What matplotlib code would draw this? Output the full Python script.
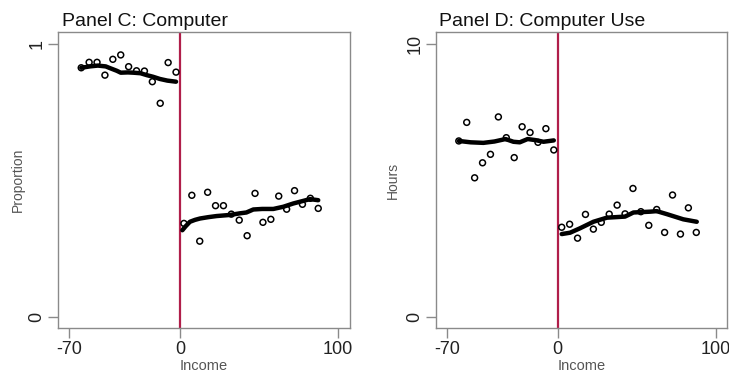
import matplotlib
matplotlib.use("Agg")
import matplotlib.pyplot as plt

plt.rcParams['font.family'] = ['Liberation Sans', 'DejaVu Sans']

# ---- Panel C: Computer (proportion) ----
c_left_x = [-62.5, -57.5, -52.5, -47.5, -42.5, -37.5, -32.5, -27.5, -22.5, -17.5, -12.5, -7.5, -2.5]
c_left_y = [0.913, 0.933, 0.933, 0.886, 0.944, 0.960, 0.917, 0.902, 0.901, 0.862, 0.783, 0.932, 0.897]
c_right_x = [2.5, 7.5, 12.5, 17.5, 22.5, 27.5, 32.5, 37.5, 42.5, 47.5, 52.5, 57.5, 62.5, 67.5, 72.5, 77.5, 82.5, 87.5]
c_right_y = [0.343, 0.446, 0.278, 0.457, 0.408, 0.408, 0.377, 0.355, 0.298, 0.453, 0.347, 0.358, 0.443, 0.395, 0.463, 0.413, 0.435, 0.398]
c_fit_left_x = [-62.5, -57, -52, -47, -44, -40, -37.5, -33, -29.5, -25, -21, -17, -12.7, -8, -2.5]
c_fit_left_y = [0.913, 0.918, 0.921, 0.918, 0.911, 0.902, 0.895, 0.896, 0.895, 0.893, 0.886, 0.880, 0.872, 0.866, 0.862]
c_fit_right_x = [1.5, 3.5, 6.3, 9.5, 12.7, 18, 23.2, 31.6, 38, 42, 46.4, 52, 59.1, 65.4, 71.7, 77, 82.3, 87.5]
c_fit_right_y = [0.318, 0.332, 0.349, 0.356, 0.361, 0.366, 0.370, 0.374, 0.380, 0.383, 0.394, 0.396, 0.396, 0.404, 0.416, 0.424, 0.432, 0.428]

# ---- Panel D: Computer Use (hours) ----
d_left_x = [-62.5, -57.5, -52.5, -47.5, -42.5, -37.5, -32.5, -27.5, -22.5, -17.5, -12.5, -7.5, -2.5]
d_left_y = [6.45, 7.13, 5.10, 5.65, 5.96, 7.33, 6.57, 5.84, 6.97, 6.76, 6.40, 6.90, 6.12]
d_right_x = [2.5, 7.5, 12.5, 17.5, 22.5, 27.5, 32.5, 37.5, 42.5, 47.5, 52.5, 57.5, 62.5, 67.5, 72.5, 77.5, 82.5, 87.5]
d_right_y = [3.29, 3.40, 2.89, 3.76, 3.22, 3.47, 3.77, 4.10, 3.78, 4.71, 3.86, 3.36, 3.94, 3.10, 4.47, 3.04, 4.00, 3.10]
d_fit_left_x = [-62.5, -55, -47, -40, -33, -28, -24, -19, -14, -9, -2.5]
d_fit_left_y = [6.45, 6.40, 6.38, 6.43, 6.52, 6.42, 6.40, 6.52, 6.48, 6.42, 6.47]
d_fit_right_x = [2.5, 7.8, 14, 22.5, 31, 42.5, 47.8, 58.3, 62.5, 68.9, 79.3, 87.8]
d_fit_right_y = [3.04, 3.09, 3.25, 3.49, 3.64, 3.68, 3.83, 3.86, 3.88, 3.77, 3.58, 3.49]

xticks = [-70, 0, 100]
xtick_labels = ['-70', '0', '100']

RED = '#B01E4A'
FRAME = '#8a8a8a'

fig = plt.figure(figsize=(7.29, 3.74), dpi=100)
axC = fig.add_axes([58/729, 46/374, 292/729, 296/374])
axD = fig.add_axes([436/729, 46/374, 291/729, 296/374])

def style(ax, title, ylabel, yticks, ylim, xlim, ylab_x):
    ax.set_xlim(*xlim)
    ax.set_ylim(*ylim)
    ax.set_xticks(xticks)
    ax.set_xticklabels(xtick_labels)
    ax.set_yticks(yticks)
    ax.set_yticklabels([str(v) for v in yticks], rotation=90, va='center')
    for s in ax.spines.values():
        s.set_color(FRAME)
        s.set_linewidth(1.0)
    ax.tick_params(axis='both', direction='out', length=7, width=1.0, color=FRAME,
                   labelsize=13, labelcolor='#222222', pad=2)
    ax.set_title(title, loc='left', fontsize=14, color='#111111', pad=4, x=0.012)
    ax.set_xlabel('Income', fontsize=10.5, color='#555555')
    ax.xaxis.set_label_coords(0.5, -0.105)
    ax.set_ylabel(ylabel, fontsize=10, color='#555555')
    ax.yaxis.set_label_coords(ylab_x, 0.5)
    ax.axvline(0, color=RED, lw=1.6, zorder=2)

def draw(ax, lx, ly, rx, ry, flx, fly, frx, fry):
    ax.plot(flx, fly, color='black', lw=3.2, solid_capstyle='round', zorder=3)
    ax.plot(frx, fry, color='black', lw=3.2, solid_capstyle='round', zorder=3)
    ax.scatter(lx, ly, s=18, facecolors='none', edgecolors='black', linewidths=1.1, zorder=4)
    ax.scatter(rx, ry, s=18, facecolors='none', edgecolors='black', linewidths=1.1, zorder=4)

style(axC, 'Panel C: Computer', 'Proportion', [0, 1], (-0.04, 1.044), (-77.2, 107.6), -0.113)
draw(axC, c_left_x, c_left_y, c_right_x, c_right_y,
     c_fit_left_x, c_fit_left_y, c_fit_right_x, c_fit_right_y)

style(axD, 'Panel D: Computer Use', 'Hours', [0, 10], (-0.40, 10.44), (-76.9, 106.9), -0.124)
draw(axD, d_left_x, d_left_y, d_right_x, d_right_y,
     d_fit_left_x, d_fit_left_y, d_fit_right_x, d_fit_right_y)

fig.savefig('out.png', dpi=100, facecolor='white')
